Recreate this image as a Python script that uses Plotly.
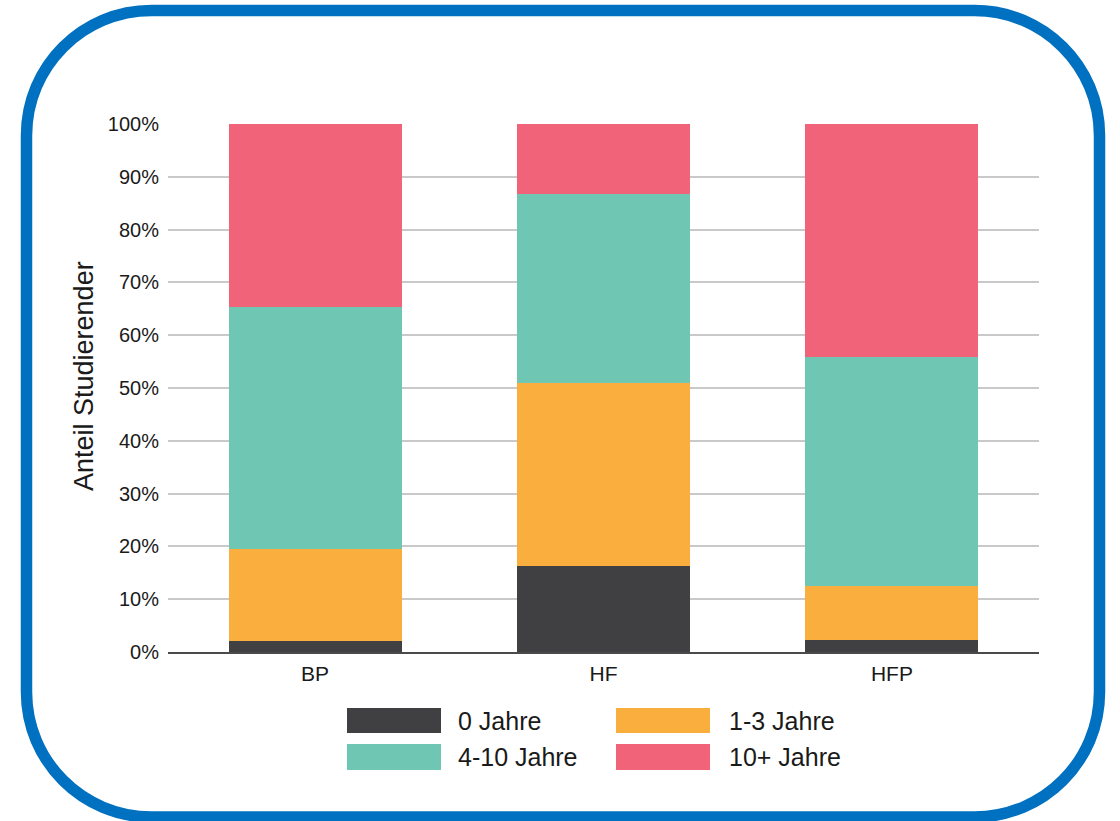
import plotly.graph_objects as go

categories = ["BP", "HF", "HFP"]
series_names = ["0 Jahre", "1-3 Jahre", "4-10 Jahre", "10+ Jahre"]
val_0 = [2.0, 16.2, 2.3]
val_1_3 = [17.6, 34.8, 10.2]
val_4_10 = [45.8, 35.8, 43.3]
val_10p = [34.6, 13.2, 44.2]
colors = ["#404042", "#F9AE3D", "#6FC7B3", "#F06378"]
y_ticks = list(range(0, 101, 10))
y_ticklabels = [f"{t}%" for t in y_ticks]
y_title = "Anteil Studierender"

W, H = 1120, 821
L, R, T, B = 168, 81, 124, 169
PW, PH = W - L - R, H - T - B

def px(x):
    return (x - L) / PW

def py(y):
    return (H - B - y) / PH

fig = go.Figure()
for name, vals, col in zip(series_names, [val_0, val_1_3, val_4_10, val_10p], colors):
    fig.add_trace(go.Bar(x=categories, y=vals, name=name, marker_color=col,
                         marker_line_width=0, width=0.6, showlegend=False))

font = "Liberation Sans, Arial, sans-serif"
fig.update_layout(
    barmode="stack",
    width=W, height=H,
    margin=dict(l=L, r=R, t=T, b=B, autoexpand=False),
    plot_bgcolor="white", paper_bgcolor="white",
    font=dict(family=font, color="#1a1a1a", size=20),
    bargap=0.4,
)
fig.update_yaxes(range=[0, 100], tickvals=y_ticks, ticktext=y_ticklabels,
                 showgrid=True, gridcolor="#c9c9c9", gridwidth=1.5,
                 zeroline=False, showline=False, ticks="outside", ticklen=4,
                 tickcolor="rgba(0,0,0,0)", tickfont=dict(size=20),
                 automargin=False)
fig.update_xaxes(range=[-0.51, 2.51], showgrid=False, showline=True,
                 linecolor="#4a4a4a", linewidth=2, ticks="outside", ticklen=2,
                 tickcolor="rgba(0,0,0,0)", tickfont=dict(size=21), automargin=False)

# y-axis title
fig.add_annotation(x=px(84), y=py(376), xref="paper", yref="paper", text=y_title,
                   textangle=-90, showarrow=False, xanchor="center", yanchor="middle",
                   font=dict(size=27, color="#1a1a1a"))

# rounded border frame
x0, x1, y0, y1, r = 26.5, 1099.5, 10.5, 817.0, 125.0
k = 0.5523 * r
pts = [
    ("M", [(x0 + r, y0)]),
    ("L", [(x1 - r, y0)]),
    ("C", [(x1 - r + k, y0), (x1, y0 + r - k), (x1, y0 + r)]),
    ("L", [(x1, y1 - r)]),
    ("C", [(x1, y1 - r + k), (x1 - r + k, y1), (x1 - r, y1)]),
    ("L", [(x0 + r, y1)]),
    ("C", [(x0 + r - k, y1), (x0, y1 - r + k), (x0, y1 - r)]),
    ("L", [(x0, y0 + r)]),
    ("C", [(x0, y0 + r - k), (x0 + r - k, y0), (x0 + r, y0)]),
]
path = ""
for cmd, ps in pts:
    path += cmd + " " + " ".join(f"{px(a):.5f},{py(b):.5f}" for a, b in ps) + " "
path += "Z"
fig.add_shape(type="path", path=path, xref="paper", yref="paper",
              line=dict(color="#0070C0", width=11.5), layer="above")

# custom legend
sw_x = [(347, 441), (616, 710)]
sw_y = [(708, 733), (744, 770)]
lab_x = [456, 727]
for i, (name, col) in enumerate(zip(series_names, colors)):
    row, c = divmod(i, 2)
    xa, xb = sw_x[c]
    ya, yb = sw_y[row]
    fig.add_shape(type="rect", xref="paper", yref="paper",
                  x0=px(xa), x1=px(xb), y0=py(yb), y1=py(ya),
                  fillcolor=col, line=dict(width=0))
    fig.add_annotation(x=px(lab_x[c]), y=py((ya + yb) / 2), xref="paper", yref="paper",
                       text=name, showarrow=False, xanchor="left", yanchor="middle",
                       font=dict(size=25, color="#1a1a1a"))

fig.write_html("out.html", config={"displayModeBar": False},
               post_script="document.body.style.margin='0';document.body.style.overflow='hidden';")
